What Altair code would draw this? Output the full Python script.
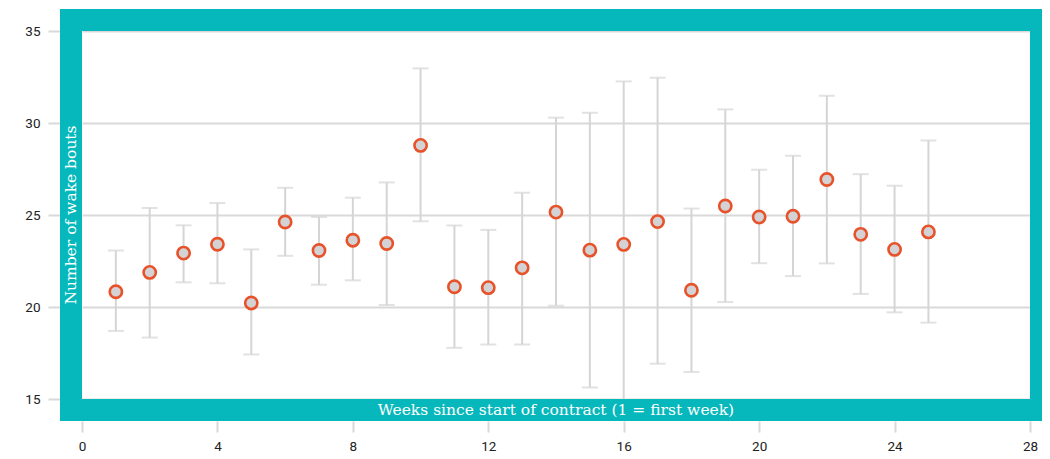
import altair as alt
import pandas as pd

weeks = list(range(1, 26))
mean_bouts = [20.83, 21.88, 22.93, 23.41, 20.22, 24.62, 23.07, 23.63, 23.45, 28.78,
              21.10, 21.05, 22.13, 25.16, 23.09, 23.40, 24.64, 20.91, 25.49, 24.89,
              24.93, 26.93, 23.95, 23.13, 24.08]
upper_bouts = [23.07, 25.38, 24.44, 25.65, 23.13, 26.48, 24.89, 25.94, 26.77, 32.97,
               24.43, 24.19, 26.21, 30.29, 30.56, 32.26, 32.46, 25.35, 30.74, 27.46,
               28.22, 31.48, 27.22, 26.59, 29.05]
lower_bouts = [18.70, 18.34, 21.34, 21.29, 17.42, 22.78, 21.21, 21.45, 20.11, 24.66,
               17.78, 17.96, 17.96, 20.07, 15.63, 14.50, 16.92, 16.47, 20.27, 22.38,
               21.68, 22.37, 20.71, 19.71, 19.15]
x_ticks = [0, 4, 8, 12, 16, 20, 24, 28]
y_ticks = [15, 20, 25, 30, 35]
x_title = "Weeks since start of contract (1 = first week)"
y_title = "Number of wake bouts"

W, H = 948, 368
TEAL = "#06b8bb"
ORANGE = "#e8522a"
GRAY = "#d5d5d7"

df = pd.DataFrame({"week": weeks, "mean": mean_bouts, "lo": lower_bouts, "hi": upper_bouts})

xs = alt.Scale(domain=[0, 28], nice=False)
ys = alt.Scale(domain=[15, 35], nice=False, zero=False)

base = alt.Chart(df)

bars = base.mark_rule(color=GRAY, strokeWidth=2).encode(
    x=alt.X("week:Q", scale=xs,
            axis=alt.Axis(values=x_ticks, title=None, grid=False, domain=False, offset=22,
                          tickSize=11, tickWidth=2, tickColor="#d9d9d9", labelPadding=7,
                          labelFlush=False)),
    y=alt.Y("lo:Q", scale=ys,
            axis=alt.Axis(values=y_ticks, title=None, grid=True, gridColor="#d9d9d9", gridWidth=2,
                          domain=False, offset=22, tickSize=12, tickWidth=2, tickColor="#d9d9d9",
                          labelPadding=8)),
    y2="hi:Q",
)
cap_hi = base.mark_tick(color=GRAY, orient="horizontal", size=16, thickness=2).encode(
    x="week:Q", y="hi:Q")
cap_lo = base.mark_tick(color=GRAY, orient="horizontal", size=16, thickness=2).encode(
    x="week:Q", y="lo:Q")
pts = base.mark_point(filled=False, shape="circle", size=150, fill="#d3d3d6", fillOpacity=1,
                      stroke=ORANGE, strokeWidth=2.6, opacity=1).encode(
    x="week:Q", y="mean:Q")

one = alt.Chart(pd.DataFrame({"a": [0]}))
frame = one.mark_rect(fill="transparent", stroke=TEAL, strokeWidth=22).encode(
    x=alt.value(-11), x2=alt.value(W + 11), y=alt.value(-11), y2=alt.value(H + 11))
xt = one.mark_text(text=x_title, color="white", font="DejaVu Serif", fontSize=15.5,
                   align="center", baseline="middle").encode(
    x=alt.value(W / 2), y=alt.value(H + 11))
yt = one.mark_text(text=y_title, color="white", font="DejaVu Serif", fontSize=15.5,
                   align="center", baseline="middle", angle=270).encode(
    x=alt.value(-11), y=alt.value(H / 2))

chart = alt.layer(bars, cap_hi, cap_lo, pts, frame, xt, yt).properties(
    width=W, height=H,
    autosize=alt.AutoSizeParams(type="none"),
    padding={"left": 74, "top": 23, "right": 12, "bottom": 60},
).configure(background="white").configure_view(stroke=None, fill="white").configure_axis(
    labelFont="Roboto", labelFontSize=13.5, labelColor="#222222"
)

chart.save("out.html", embed_options={"renderer": "svg", "actions": False})
